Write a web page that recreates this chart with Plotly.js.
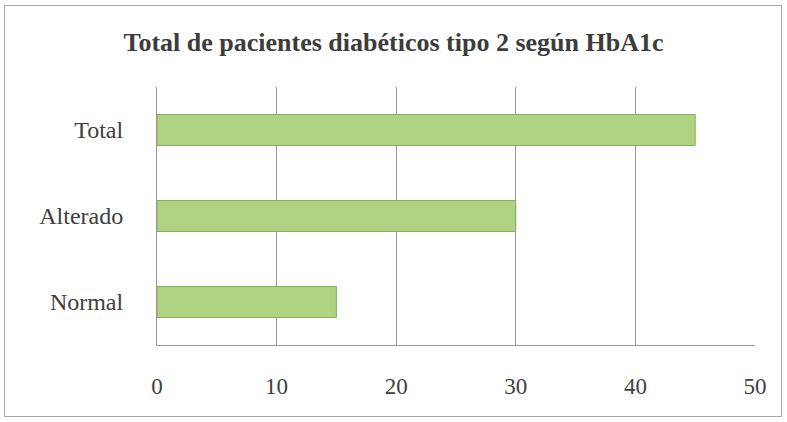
<!DOCTYPE html>
<html>
<head>
<meta charset="utf-8">
<script src="https://cdn.plot.ly/plotly-3.0.1.min.js"></script>
<style>
  html, body { margin: 0; padding: 0; background: #ffffff; }
  #wrap { position: relative; width: 787px; height: 422px; }
  #chart { width: 787px; height: 422px; }
  #frame { position: absolute; left: 4px; top: 5px; width: 776px; height: 410px;
           border: 1px solid #a8a8a8; pointer-events: none; }
</style>
</head>
<body>
<div id="wrap">
  <div id="chart"></div>
  <div id="frame"></div>
</div>
<script>
// HbA1c groups, bottom to top
const categories = ['Normal', 'Alterado', 'Total'];
const patients = [15, 30, 45];
const xTicks = [0, 10, 20, 30, 40, 50];

const serif = '"Liberation Serif", "DejaVu Serif", serif';

const trace = {
  type: 'bar',
  orientation: 'h',
  y: categories,
  x: patients,
  marker: { color: '#afd283', line: { color: '#8aab5c', width: 1 } },
  hoverinfo: 'x+y'
};

const layout = {
  width: 787,
  height: 422,
  margin: { l: 157, r: 32, t: 87, b: 77 },
  paper_bgcolor: '#ffffff',
  plot_bgcolor: '#ffffff',
  bargap: 0.64,
  showlegend: false,
  title: {
    text: '<b>Total de pacientes diabéticos tipo 2 según HbA1c</b>',
    font: { family: serif, size: 26, color: '#3c3c3c' },
    x: 0.5, xanchor: 'center', y: 0.9, yanchor: 'middle'
  },
  xaxis: {
    range: [0, 50],
    tickvals: xTicks,
    ticktext: xTicks.map(String),
    showgrid: true,
    gridcolor: '#9a9a9a',
    gridwidth: 1,
    zeroline: false,
    showline: true,
    linecolor: '#9a9a9a',
    ticks: '',
    ticklabelstandoff: 20,
    tickfont: { family: serif, size: 23, color: '#404040' },
    fixedrange: true
  },
  yaxis: {
    showgrid: false,
    showline: true,
    linecolor: '#9a9a9a',
    ticks: '',
    ticklabelstandoff: 28,
    tickfont: { family: serif, size: 24, color: '#404040' },
    fixedrange: true
  }
};

Plotly.newPlot('chart', [trace], layout, { displayModeBar: false, staticPlot: true });
</script>
</body>
</html>
